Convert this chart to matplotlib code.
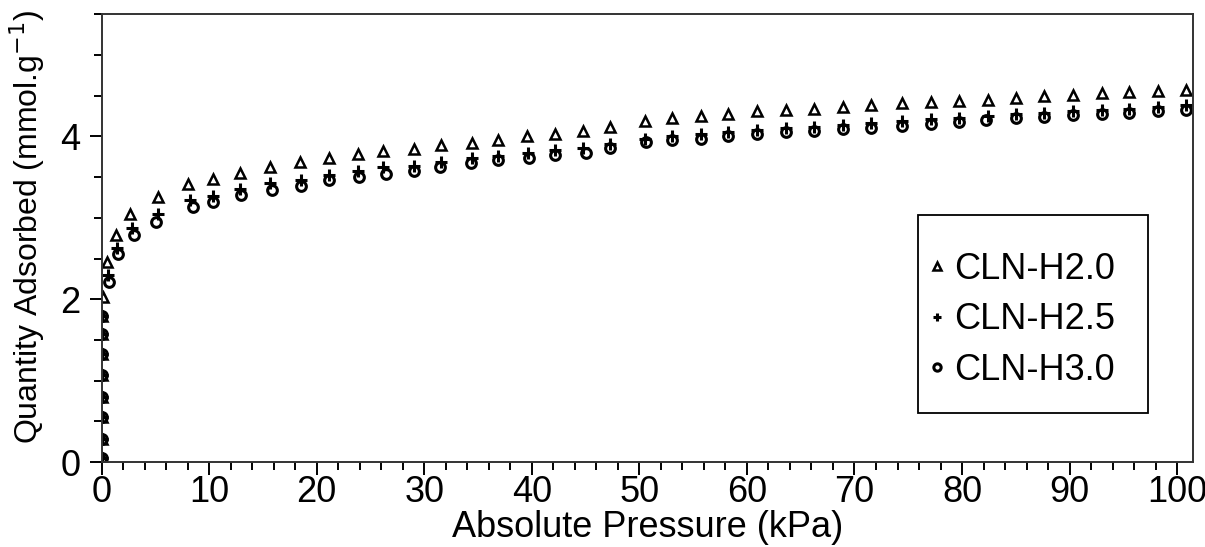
import numpy as np
import matplotlib.pyplot as plt
from matplotlib.ticker import MultipleLocator
from matplotlib.patches import Rectangle

plt.rcParams['font.family'] = ['Liberation Sans', 'DejaVu Sans']

# low pressure points (same for all samples, stacked on the y axis)
p_low = [0.01, 0.02, 0.03, 0.04, 0.05, 0.06, 0.07, 0.08]
q_low = [0.05, 0.28, 0.55, 0.80, 1.07, 1.33, 1.58, 1.80]

# CLN-H2.0
p_h20 = [0.17, 0.48, 1.32, 2.65, 5.23, 8.07, 10.4, 12.88, 15.67, 18.47, 21.1, 23.8,
         26.2, 29.0, 31.55, 34.4, 36.9, 39.55, 42.2, 44.8, 47.3, 50.5, 53.0, 55.7,
         58.2, 60.9, 63.6, 66.2, 68.9, 71.5, 74.4, 77.1, 79.7, 82.4, 85.0, 87.6,
         90.3, 93.0, 95.5, 98.2, 100.8]
q_h20 = [2.03, 2.46, 2.79, 3.05, 3.26, 3.41, 3.48, 3.55, 3.62, 3.68, 3.73, 3.79,
         3.82, 3.85, 3.89, 3.92, 3.95, 4.00, 4.03, 4.07, 4.11, 4.19, 4.23, 4.25,
         4.28, 4.31, 4.32, 4.34, 4.36, 4.38, 4.41, 4.42, 4.44, 4.45, 4.47, 4.49,
         4.51, 4.53, 4.54, 4.56, 4.57]

# CLN-H2.5
p_h25 = [0.6, 1.4, 2.8, 5.2, 8.2, 10.4, 12.9, 15.7, 18.5, 21.1, 23.8, 26.2,
         29.0, 31.6, 34.4, 36.9, 39.6, 42.2, 44.8, 47.3, 50.5, 53.0, 55.7, 58.2,
         60.9, 63.6, 66.2, 68.9, 71.5, 74.4, 77.1, 79.7, 82.4, 85.0, 87.6, 90.3,
         93.0, 95.5, 98.2, 100.8]
q_h25 = [2.30, 2.63, 2.88, 3.05, 3.22, 3.27, 3.36, 3.43, 3.47, 3.53, 3.57, 3.62,
         3.64, 3.68, 3.73, 3.76, 3.80, 3.83, 3.86, 3.91, 3.97, 4.01, 4.03, 4.05,
         4.08, 4.10, 4.12, 4.14, 4.16, 4.19, 4.21, 4.23, 4.25, 4.27, 4.29, 4.31,
         4.33, 4.34, 4.36, 4.38]

# CLN-H3.0
p_h30 = [0.7, 1.5, 3.0, 5.1, 8.5, 10.4, 13.0, 15.8, 18.5, 21.1, 23.9, 26.4,
         29.0, 31.5, 34.3, 36.9, 39.7, 42.2, 45.0, 47.3, 50.6, 53.0, 55.7, 58.2,
         60.9, 63.6, 66.2, 68.9, 71.5, 74.4, 77.1, 79.7, 82.2, 85.0, 87.6, 90.3,
         93.0, 95.5, 98.2, 100.8]
q_h30 = [2.21, 2.56, 2.79, 2.95, 3.13, 3.19, 3.28, 3.34, 3.39, 3.46, 3.50, 3.54,
         3.57, 3.62, 3.67, 3.71, 3.74, 3.77, 3.80, 3.86, 3.93, 3.96, 3.97, 4.00,
         4.03, 4.05, 4.07, 4.09, 4.10, 4.13, 4.15, 4.18, 4.20, 4.22, 4.24, 4.26,
         4.28, 4.29, 4.31, 4.33]

W, H = 1205, 547
fig = plt.figure(figsize=(W / 100, H / 100), dpi=100)
ax = fig.add_axes([0.0843, 0.155, 0.906, 0.819])

ax.plot(p_low + p_h20, q_low + q_h20, linestyle='none', marker='^', markersize=7,
        markerfacecolor='none', markeredgecolor='black', markeredgewidth=1.8, label='CLN-H2.0')
ax.plot(p_low + p_h25, q_low + q_h25, linestyle='none', marker='+', markersize=8,
        color='black', markeredgewidth=2.2, label='CLN-H2.5')
ax.plot(p_low + p_h30, q_low + q_h30, linestyle='none', marker='o', markersize=7,
        markerfacecolor='none', markeredgecolor='black', markeredgewidth=2.2, label='CLN-H3.0')

ax.set_xlim(0, 101.5)
ax.set_ylim(0, 5.5)
ax.xaxis.set_major_locator(MultipleLocator(10))
ax.xaxis.set_minor_locator(MultipleLocator(2))
ax.yaxis.set_major_locator(MultipleLocator(2))
ax.yaxis.set_minor_locator(MultipleLocator(0.5))
ax.tick_params(which='major', direction='out', length=9, width=1.4, labelsize=26)
ax.tick_params(axis='x', which='major', pad=0)
ax.tick_params(axis='y', which='major', pad=6)
ax.tick_params(which='minor', direction='out', length=5.5, width=1.4)
for s in ax.spines.values():
    s.set_linewidth(1.4)
    s.set_color('#333333')

ax.set_xlabel('Absolute Pressure (kPa)', fontsize=26, labelpad=0)
ax.set_ylabel('Quantity Adsorbed (mmol.g$^{-1}$)', fontsize=23)
ax.yaxis.set_label_coords(-0.05, 0.525)

# legend box
fig.patches.append(Rectangle((918 / W, 1 - 413 / H), 230 / W, 198 / H,
                             transform=fig.transFigure, fill=False,
                             edgecolor='black', linewidth=1.3))
ax.legend(loc='center left', bbox_to_anchor=(927 / W, 1 - 320 / H),
          bbox_transform=fig.transFigure, fontsize=26, frameon=False,
          markerscale=0.75, handlelength=0.55, handletextpad=0.2,
          borderpad=0, labelspacing=0.43, borderaxespad=0)

fig.savefig('out.png', dpi=100)
